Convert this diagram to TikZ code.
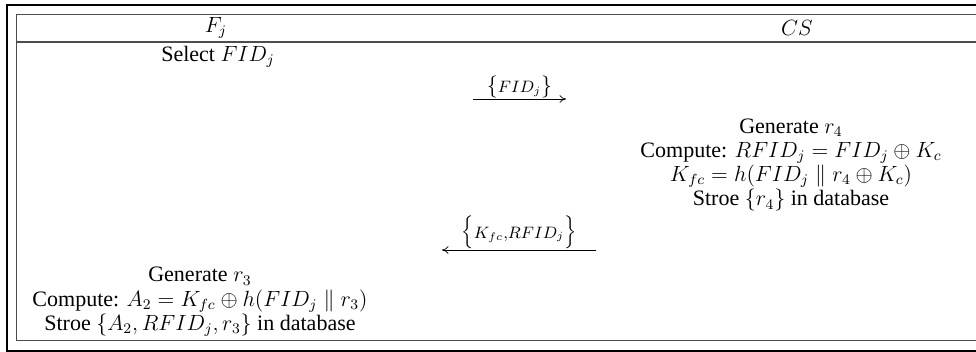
\documentclass[tikz,border=0pt]{standalone}
\usepackage[no-math]{fontspec}
\setmainfont{Liberation Serif}
\usetikzlibrary{arrows.meta}
\begin{document}
\begin{tikzpicture}[x=0.545pt, y=-0.545pt, >={To[length=3.5pt,width=4pt]},
		every node/.style={font=\fontsize{12}{13.2}\selectfont},
		msg/.style={->, thin},
		msglbl/.style={font=\fontsize{12.5}{13}\selectfont, inner sep=0.3pt},
		ops/.style={align=center, inner sep=0pt}]
	\useasboundingbox (0,0) rectangle (976,352);
	% outer frame
	\draw[line width=1.2pt] (976,5) -- (7,5) -- (7,351) -- (976,351);
	% table of the protocol
	\draw[black!70, line width=0.6pt] (976,14.5) -- (16.5,14.5) -- (16.5,340.5) -- (976,340.5);
	\draw[black!70, line width=0.6pt] (16.5,42) -- (976,42);
	
	\node (Fj) at (216,28) {$F_j$};
	\node (CS) at (797,28) {$CS$};
	
	\node[ops] (sel) at (218,57) {Select $FID_j$};
	
	% F_j -> CS
	\coordinate (m1s) at (473,99);
	\coordinate (m1e) at (566,99);
	\draw[msg] (m1s) -- (m1e) node[midway, above, msglbl] {$\bigl\{\scriptstyle FID_j\bigr\}$};
	
	\node[ops] (csops) at (791,165) {Generate $r_4$\\
		Compute: $RFID_j=FID_j\oplus K_c$\\
		$K_{fc}=h(FID_j\parallel r_4\oplus K_c)$\\
		Stroe $\{r_4\}$ in database};
	
	% CS -> F_j
	\coordinate (m2s) at (596,250);
	\coordinate (m2e) at (442,250);
	\draw[msg] (m2s) -- (m2e) node[midway, above, msglbl] {$\Bigl\{\scriptstyle K_{fc},RFID_j\Bigr\}$};
	
	\node[ops] (fops) at (200,302) {Generate $r_3$\\
		Compute: $A_2=K_{fc}\oplus h(FID_j\parallel r_3)$\\
		Stroe $\{A_2,RFID_j,r_3\}$ in database};
\end{tikzpicture}
\end{document}
